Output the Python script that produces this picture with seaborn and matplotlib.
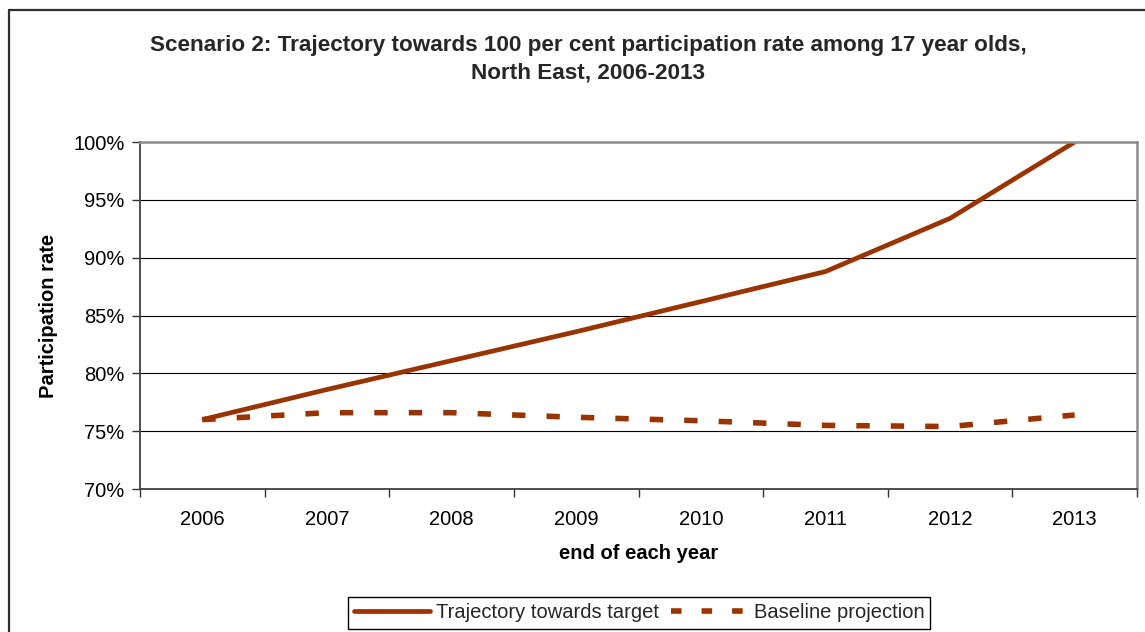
import matplotlib
matplotlib.use("Agg")
import matplotlib.pyplot as plt
from matplotlib.lines import Line2D
from matplotlib.ticker import PercentFormatter, FixedLocator
import seaborn as sns
import pandas as pd

# Participation rate of 17 year olds, North East (per cent)
years = ["2006", "2007", "2008", "2009", "2010", "2011", "2012", "2013"]
trajectory = [76.0, 78.6, 81.1, 83.6, 86.2, 88.8, 93.4, 100.0]
baseline = [76.0, 76.6, 76.6, 76.2, 75.9, 75.5, 75.4, 76.4]

series_names = ["Trajectory towards target", "Baseline projection"]
line_colour = "#993300"

sns.set_theme(style="white")
plt.rcParams["font.family"] = ["Liberation Sans", "DejaVu Sans"]

df = pd.DataFrame({
    "year": years * 2,
    "rate": trajectory + baseline,
    "series": [series_names[0]] * len(years) + [series_names[1]] * len(years),
})
df["pos"] = list(range(len(years))) * 2

fig = plt.figure(figsize=(11.45, 6.32), dpi=100)
ax = fig.add_axes([140 / 1145, 1 - 489 / 632, 997 / 1145, 347 / 632])

sns.lineplot(
    data=df, x="pos", y="rate", hue="series", style="series",
    palette={series_names[0]: line_colour, series_names[1]: line_colour},
    dashes={series_names[0]: "", series_names[1]: (2.4, 3.8)},
    linewidth=3.4, ax=ax, legend=False,
)
for ln in ax.get_lines():
    ln.set_solid_capstyle("butt")
    ln.set_dash_capstyle("butt")
ax.get_lines()[1].set_linewidth(4.0)

ax.set_xlim(-0.5, len(years) - 0.5)
ax.set_ylim(70, 100)
ax.set_yticks(range(70, 101, 5))
ax.yaxis.set_major_formatter(PercentFormatter(decimals=0))
ax.set_xticks(range(len(years)))
ax.set_xticklabels(years)
ax.xaxis.set_minor_locator(FixedLocator([i - 0.5 for i in range(len(years) + 1)]))

ax.grid(axis="y", color="black", linewidth=0.8)
ax.set_axisbelow(True)
ax.tick_params(axis="y", which="major", direction="out", length=6, width=1,
               color="#333333", left=True, labelsize=14.5, pad=5, labelcolor="black")
ax.tick_params(axis="x", which="major", length=0, labelsize=14.5, pad=15, labelcolor="black")
ax.tick_params(axis="x", which="minor", direction="out", length=6, width=1,
               color="#333333", bottom=True)

for side in ["left", "bottom"]:
    ax.spines[side].set_color("#404040")
    ax.spines[side].set_linewidth(1.3)
for side in ["top", "right"]:
    ax.spines[side].set_color("#8c8c8c")
    ax.spines[side].set_linewidth(1.8)

ax.set_xlabel("end of each year", fontsize=14.5, fontweight="bold", labelpad=11, color="black")
ax.set_ylabel("Participation rate", fontsize=14.5, fontweight="bold", labelpad=11, color="black")

fig.text(588 / 1145, 1 - 46 / 632,
         "Scenario 2: Trajectory towards 100 per cent participation rate among 17 year olds,",
         ha="center", va="center", fontsize=16.2, fontweight="bold")
fig.text(588 / 1145, 1 - 73 / 632, "North East, 2006-2013",
         ha="center", va="center", fontsize=16.2, fontweight="bold")

handles = [
    Line2D([], [], color=line_colour, linewidth=3.4, solid_capstyle="round"),
    Line2D([], [], color=line_colour, linewidth=4.0, linestyle=(0, (1.9, 3.6)),
           dash_capstyle="butt"),
]
leg = fig.legend(handles, series_names, loc="center", ncol=2,
                 bbox_to_anchor=(639 / 1145, 1 - 613 / 632),
                 fontsize=14.5, frameon=True, fancybox=False, framealpha=1,
                 edgecolor="black", handlelength=3.8, handletextpad=0.3,
                 columnspacing=0.6, borderpad=0.3, borderaxespad=0)
leg.get_frame().set_linewidth(1.0)

# figure frame (left and top edges)
fig.add_artist(Line2D([9 / 1145, 9 / 1145], [0, 1 - 10 / 632], color="#303030",
                      linewidth=1.6, transform=fig.transFigure))
fig.add_artist(Line2D([9 / 1145, 1], [1 - 10 / 632, 1 - 10 / 632], color="#303030",
                      linewidth=1.6, transform=fig.transFigure))

fig.savefig("out.png", dpi=100)
